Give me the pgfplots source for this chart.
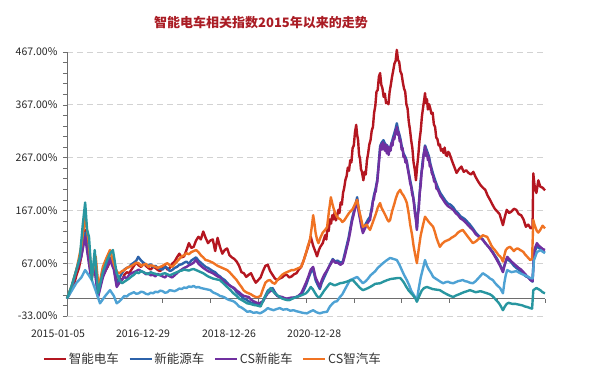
\documentclass[border=0pt]{standalone}
\usepackage{fontspec}
\setmainfont{Noto Sans CJK SC}
\usepackage{pgfplots}
\pgfplotsset{compat=1.18}
\definecolor{cRed}{RGB}{180,22,32}
\definecolor{cBlue}{RGB}{44,98,170}
\definecolor{cPurple}{RGB}{112,48,160}
\definecolor{cOrange}{RGB}{240,115,35}
\definecolor{cSky}{RGB}{78,162,212}
\definecolor{cTeal}{RGB}{40,150,160}
\definecolor{cTitle}{RGB}{170,28,36}
\definecolor{cGrid}{RGB}{210,210,210}
\definecolor{cAxis}{RGB}{110,110,110}
\begin{document}
\begin{tikzpicture}
\useasboundingbox (-67pt,-63pt) rectangle (522pt,316pt);
\begin{axis}[
  at={(0pt,0pt)}, anchor=south west,
  scale only axis, width=478pt, height=264pt,
  xmin=0, xmax=10, ymin=-33, ymax=467,
  axis x line=middle, axis y line=left,
  axis line style={-, cAxis, line width=0.7pt},
  xtick={0,1,...,10}, xticklabels={},
  ytick={-33,67,167,267,367,467},
  yticklabels={-33.00\%,67.00\%,167.00\%,267.00\%,367.00\%,467.00\%},
  minor y tick num=4,
  tick align=outside,
  major tick length=4pt, minor tick length=4pt,
  tick style={cAxis, line width=0.5pt},
  ymajorgrids, major grid style={cGrid, dashed, dash pattern=on 6pt off 4pt, line width=0.6pt},
  yticklabel style={font=\fontsize{10.5}{12}\selectfont, text=black!85, xshift=-2pt},
  clip=false,
  legend style={at={(axis description cs:-0.0565,-0.163)}, anchor=west, draw=none, fill=none,
    font=\fontsize{12.5}{14}\selectfont, text=black!80,
    /tikz/every even column/.append style={column sep=8pt}},
  legend columns=-1,
  legend image code/.code={\draw[#1, line width=1.6pt] (0pt,0pt) -- (22pt,0pt);},
  every axis plot/.append style={line width=2.4pt, line join=round},
]
% 智能电车
\addplot[cRed] coordinates {
(0,0)(0.05,8)(0.1,20)(0.15,28)(0.2,45)(0.25,58)(0.3,80)(0.34,105)(0.38,130)(0.42,110)(0.45,95)(0.49,62)(0.52,40)(0.56,58)(0.6,70)(0.63,40)(0.66,15)(0.7,30)(0.75,45)(0.8,52)(0.85,60)(0.9,70)(0.95,78)(1.0,55)(1.05,30)(1.1,38)(1.15,35)(1.2,45)(1.25,50)(1.3,48)(1.35,55)(1.4,62)(1.45,68)(1.5,63)(1.55,60)(1.6,66)(1.65,62)(1.7,58)(1.75,55)(1.8,60)(1.85,58)(1.9,54)(1.95,52)(2.0,58)(2.05,62)(2.1,55)(2.15,58)(2.2,66)(2.25,70)(2.3,78)(2.35,85)(2.4,78)(2.45,80)(2.5,92)(2.55,105)(2.6,96)(2.65,98)(2.7,110)(2.75,117)(2.8,112)(2.85,127)(2.9,115)(2.95,105)(3.0,110)(3.05,112)(3.1,90)(3.15,115)(3.2,98)(3.25,85)(3.3,92)(3.35,95)(3.4,82)(3.45,78)(3.5,75)(3.55,70)(3.6,62)(3.65,50)(3.7,48)(3.75,41)(3.8,45)(3.85,48)(3.9,38)(3.95,30)(4.0,35)(4.05,40)(4.1,52)(4.15,62)(4.2,64)(4.25,52)(4.3,45)(4.35,38)(4.4,35)(4.45,38)(4.5,40)(4.55,44)(4.6,45)(4.65,40)(4.7,42)(4.75,46)(4.8,48)(4.85,55)(4.9,60)(4.95,72)(5.0,86)(5.05,100)(5.1,117)(5.15,100)(5.2,88)(5.23,80)(5.27,92)(5.3,98)(5.35,105)
(5.40,120)(5.425,112)(5.45,135)(5.475,128)(5.50,150)(5.525,142)(5.55,158)(5.575,150)(5.60,164)(5.625,148)(5.65,155)(5.675,168)(5.70,162)(5.725,182)(5.75,178)(5.775,200)(5.80,210)(5.825,225)(5.85,232)(5.875,248)(5.90,242)(5.925,262)(5.95,258)(5.975,285)(6.00,290)(6.025,315)(6.05,329)(6.07,310)(6.09,300)(6.11,272)(6.13,265)(6.15,245)(6.17,240)(6.20,224)(6.225,240)(6.25,235)(6.275,262)(6.30,275)(6.325,292)(6.35,300)(6.375,318)(6.40,325)(6.425,352)(6.45,365)(6.475,392)(6.50,395)(6.525,420)(6.55,427)(6.575,405)(6.60,398)(6.625,382)(6.65,388)(6.675,370)(6.70,372)(6.725,368)(6.75,392)(6.775,405)(6.80,420)(6.825,432)(6.85,445)(6.875,450)(6.90,471)(6.925,452)(6.95,448)(6.975,430)(7.00,425)(7.025,410)(7.05,398)(7.075,392)(7.10,368)(7.125,360)(7.15,335)(7.175,320)(7.20,300)(7.225,285)(7.25,258)(7.275,245)(7.30,224)(7.325,250)(7.35,272)(7.375,300)(7.40,318)(7.425,345)(7.45,362)(7.475,378)(7.49,389)(7.51,370)(7.53,378)(7.55,358)(7.575,368)(7.60,360)(7.625,350)(7.65,352)(7.675,330)(7.70,325)(7.725,305)(7.75,302)(7.775,290)(7.80,292)(7.825,280)(7.85,283)(7.875,276)(7.90,286)(7.925,272)(7.95,270)(7.975,278)
(8.0,275)(8.05,262)(8.1,250)(8.15,238)(8.2,245)(8.25,250)(8.3,240)(8.35,243)(8.4,238)(8.45,235)(8.5,240)(8.55,230)(8.6,222)(8.65,215)(8.7,210)(8.75,206)(8.8,195)(8.85,187)(8.9,178)(8.95,170)(9.0,165)(9.05,160)(9.09,148)(9.12,139)(9.16,155)(9.2,168)(9.25,162)(9.3,165)(9.35,170)(9.4,168)(9.45,160)(9.5,158)(9.55,150)(9.6,136)(9.65,140)(9.7,133)(9.74,135)(9.755,237)(9.78,215)(9.82,200)(9.86,224)(9.9,212)(9.95,210)(10.0,205)
};
% 新能源车
\addplot[cBlue] coordinates {
(0,0)(0.1,22)(0.2,56)(0.3,85)(0.38,125)(0.43,90)(0.5,45)(0.58,60)(0.65,5)(0.75,45)(0.84,65)(0.9,78)(0.98,60)(1.04,25)(1.1,40)(1.15,48)(1.2,55)(1.25,58)(1.3,60)(1.35,65)(1.4,68)(1.45,72)(1.49,79)(1.55,72)(1.6,68)(1.65,64)(1.7,62)(1.75,65)(1.8,60)(1.85,62)(1.9,58)(1.95,56)(2.0,55)(2.05,60)(2.1,58)(2.15,52)(2.2,54)(2.25,58)(2.3,60)(2.35,64)(2.4,65)(2.45,68)(2.5,70)(2.55,66)(2.6,72)(2.65,75)(2.7,78)(2.75,72)(2.8,68)(2.85,64)(2.9,60)(2.95,58)(3.0,55)(3.05,52)(3.1,50)(3.15,45)(3.2,42)(3.25,38)(3.3,35)(3.35,30)(3.4,25)(3.45,22)(3.5,18)(3.55,12)(3.6,8)(3.65,4)(3.7,0)(3.75,-2)(3.8,-5)(3.85,-8)(3.9,-9)(3.95,-10)(4.0,-12)(4.05,-8)(4.1,-5)(4.15,5)(4.2,15)(4.25,18)(4.3,20)(4.35,12)(4.4,5)(4.45,3)(4.5,2)(4.55,0)(4.6,-3)(4.65,-1)(4.7,0)(4.75,2)(4.8,3)(4.85,5)(4.9,8)(4.95,15)(5.0,25)(5.05,38)(5.1,50)(5.15,55)(5.2,35)(5.25,25)(5.29,18)(5.33,30)(5.38,40)(5.43,50)(5.48,60)(5.52,68)(5.56,75)(5.61,70)(5.66,72)(5.72,68)(5.77,70)(5.81,85)(5.85,100)(5.89,115)(5.92,130)(5.96,150)(6.0,165)(6.04,180)(6.07,192)(6.1,170)(6.13,155)(6.16,140)(6.19,128)(6.23,138)(6.27,145)(6.3,150)(6.34,155)(6.38,175)(6.42,195)(6.46,210)(6.49,225)(6.52,255)(6.55,288)(6.58,295)(6.62,300)(6.66,292)(6.7,290)(6.73,282)(6.76,286)(6.8,298)(6.83,308)(6.87,320)(6.9,332)(6.93,318)(6.97,305)(7.0,290)(7.04,275)(7.08,268)(7.11,260)(7.15,238)(7.2,215)(7.23,200)(7.26,183)(7.29,160)(7.32,132)(7.36,180)(7.4,225)(7.44,260)(7.49,290)(7.53,280)(7.57,270)(7.61,252)(7.66,236)(7.71,222)(7.76,210)(7.81,200)(7.87,192)(7.92,185)(7.97,180)(8.02,178)(8.08,173)(8.13,166)(8.18,162)(8.23,156)(8.28,153)(8.33,150)(8.38,145)(8.43,140)(8.49,133)(8.55,125)(8.6,120)(8.65,116)(8.7,112)(8.75,105)(8.8,100)(8.85,95)(8.91,88)(8.95,82)(9.0,75)(9.06,64)(9.09,58)(9.12,52)(9.15,62)(9.18,70)(9.21,76)(9.25,72)(9.3,68)(9.35,62)(9.4,58)(9.45,55)(9.5,50)(9.55,46)(9.6,42)(9.65,40)(9.7,35)(9.74,32)(9.77,85)(9.8,92)(9.83,100)(9.87,96)(9.9,95)(9.95,90)(10,88)
};
% CS新能车
\addplot[cPurple] coordinates {
(0,0)(0.1,20)(0.2,54)(0.3,80)(0.38,117)(0.43,85)(0.5,41)(0.58,54)(0.65,3)(0.75,40)(0.84,60)(0.9,73)(0.98,55)(1.04,22)(1.1,30)(1.15,36)(1.2,41)(1.25,38)(1.3,45)(1.35,48)(1.4,50)(1.45,52)(1.5,55)(1.55,52)(1.6,50)(1.65,46)(1.7,48)(1.75,44)(1.8,45)(1.85,42)(1.9,47)(1.95,44)(2.0,42)(2.05,40)(2.1,45)(2.15,42)(2.2,40)(2.25,44)(2.3,48)(2.35,52)(2.4,55)(2.45,58)(2.5,60)(2.55,63)(2.6,65)(2.65,68)(2.7,73)(2.75,66)(2.8,62)(2.85,58)(2.9,55)(2.95,52)(3.0,50)(3.05,48)(3.1,45)(3.15,42)(3.2,40)(3.25,35)(3.3,30)(3.35,28)(3.4,25)(3.45,22)(3.5,20)(3.55,15)(3.6,12)(3.65,8)(3.7,5)(3.75,4)(3.8,3)(3.85,-2)(3.9,-5)(3.95,-7)(4.0,-9)(4.05,-8)(4.1,-5)(4.15,3)(4.2,10)(4.25,14)(4.3,16)(4.35,10)(4.4,5)(4.45,4)(4.5,3)(4.55,1)(4.6,0)(4.65,1)(4.7,2)(4.75,2)(4.8,3)(4.85,6)(4.9,10)(4.95,20)(5.0,30)(5.05,42)(5.1,55)(5.15,60)(5.2,40)(5.25,30)(5.29,22)(5.33,35)(5.38,45)(5.43,52)(5.48,60)(5.52,66)(5.56,73)(5.61,68)(5.66,68)(5.72,64)(5.77,67)(5.81,80)(5.85,95)(5.89,110)(5.92,124)(5.96,145)(6.0,160)(6.04,175)(6.07,187)(6.1,165)(6.13,150)(6.16,135)(6.19,124)(6.23,132)(6.27,140)(6.3,145)
(6.34,149)(6.36,162)(6.38,168)(6.40,185)(6.42,188)(6.44,200)(6.46,203)(6.48,218)(6.49,219)(6.51,240)(6.53,262)(6.55,281)(6.57,292)(6.59,282)(6.61,296)(6.63,288)(6.65,280)(6.67,292)(6.69,275)(6.71,288)(6.73,272)(6.75,286)(6.77,280)(6.79,295)(6.81,290)(6.83,305)(6.85,302)(6.87,318)(6.89,312)(6.90,325)(6.92,310)(6.94,315)(6.96,298)(6.98,300)(7.00,282)(7.02,285)(7.04,268)(7.06,270)(7.08,258)(7.10,262)(7.12,250)(7.14,240)(7.16,230)(7.18,218)(7.20,212)(7.22,198)(7.24,192)(7.26,178)(7.28,160)(7.30,150)(7.32,130)(7.34,160)(7.36,170)(7.38,200)(7.40,215)(7.42,240)(7.44,250)(7.46,272)(7.48,280)(7.49,288)(7.51,270)(7.53,278)(7.55,262)(7.57,268)(7.59,250)(7.61,252)(7.63,238)(7.66,232)(7.68,222)(7.71,220)(7.73,208)(7.76,206)
(7.81,195)(7.87,187)(7.92,180)(7.97,175)(8.02,172)(8.08,168)(8.13,162)(8.18,158)(8.23,152)(8.28,149)(8.33,145)(8.38,140)(8.43,135)(8.49,130)(8.55,122)(8.6,118)(8.65,115)(8.7,111)(8.75,105)(8.8,100)(8.85,94)(8.91,86)(8.95,80)(9.0,72)(9.06,62)(9.09,56)(9.12,50)(9.15,62)(9.18,72)(9.21,79)(9.25,75)(9.3,70)(9.35,66)(9.4,62)(9.45,58)(9.5,55)(9.55,50)(9.6,45)(9.65,40)(9.7,35)(9.74,33)(9.77,90)(9.8,98)(9.83,105)(9.87,100)(9.9,98)(9.95,94)(10,92)
};
% CS智汽车
\addplot[cOrange] coordinates {
(0,0)(0.1,25)(0.2,55)(0.3,100)(0.38,155)(0.45,110)(0.52,41)(0.6,80)(0.66,20)(0.75,60)(0.83,78)(0.9,92)(0.95,75)(1.0,60)(1.05,50)(1.1,48)(1.15,52)(1.2,54)(1.25,58)(1.3,60)(1.35,62)(1.4,65)(1.45,68)(1.5,67)(1.55,62)(1.6,64)(1.65,66)(1.7,60)(1.75,63)(1.8,62)(1.85,60)(1.9,58)(1.95,60)(2.0,62)(2.05,65)(2.1,67)(2.15,63)(2.2,60)(2.25,65)(2.3,70)(2.35,75)(2.4,80)(2.45,82)(2.5,86)(2.55,84)(2.6,88)(2.65,90)(2.7,92)(2.75,88)(2.8,82)(2.85,78)(2.9,73)(2.95,72)(3.0,70)(3.05,68)(3.1,65)(3.15,62)(3.2,60)(3.25,58)(3.3,56)(3.35,54)(3.4,50)(3.45,45)(3.5,40)(3.55,35)(3.6,28)(3.65,22)(3.7,15)(3.75,12)(3.8,10)(3.85,8)(3.9,5)(3.95,3)(4.0,3)(4.05,5)(4.1,18)(4.15,30)(4.2,34)(4.25,35)(4.3,30)(4.35,28)(4.4,35)(4.45,40)(4.5,45)(4.55,48)(4.6,50)(4.65,52)(4.7,54)(4.75,54)(4.8,56)(4.85,58)(4.9,60)(4.95,72)(5.0,86)(5.04,100)(5.08,110)(5.12,135)(5.15,158)(5.18,140)(5.2,125)(5.23,112)(5.26,105)(5.3,115)(5.35,125)(5.4,130)(5.44,135)(5.48,165)(5.52,192)(5.55,180)(5.58,170)(5.62,160)(5.65,155)(5.68,152)(5.72,150)(5.76,145)(5.8,148)(5.85,155)(5.9,162)(5.94,166)(5.98,170)(6.02,178)(6.07,187)(6.1,172)(6.13,160)(6.16,148)(6.19,136)(6.23,138)(6.27,140)(6.3,135)(6.34,130)(6.38,140)(6.42,150)(6.46,160)(6.5,172)(6.55,181)(6.58,172)(6.62,165)(6.66,158)(6.7,150)(6.73,146)(6.76,149)(6.8,165)(6.85,180)(6.88,190)(6.92,200)(6.97,206)(7.0,200)(7.04,195)(7.08,188)(7.11,181)(7.15,160)(7.18,140)(7.22,120)(7.25,100)(7.28,85)(7.32,67)(7.36,95)(7.4,120)(7.45,140)(7.49,155)(7.53,150)(7.57,145)(7.62,140)(7.66,136)(7.7,125)(7.73,115)(7.77,105)(7.8,98)(7.85,104)(7.9,108)(7.95,110)(8.0,112)(8.04,115)(8.08,117)(8.13,120)(8.18,125)(8.23,128)(8.28,130)(8.33,124)(8.38,118)(8.43,112)(8.49,105)(8.55,108)(8.6,112)(8.65,116)(8.7,120)(8.75,118)(8.79,117)(8.84,108)(8.88,100)(8.92,95)(8.95,92)(9.0,86)(9.03,82)(9.06,80)(9.09,76)(9.12,70)(9.15,82)(9.18,92)(9.22,96)(9.27,98)(9.31,94)(9.35,90)(9.38,93)(9.42,95)(9.45,94)(9.48,92)(9.52,90)(9.55,88)(9.58,84)(9.62,80)(9.66,76)(9.69,73)(9.73,75)(9.755,149)(9.78,140)(9.8,135)(9.83,128)(9.86,125)(9.9,130)(9.95,138)(10,133)
};
% hidden series (light blue)
\addplot[cSky, forget plot] coordinates {
(0,0)(0.1,15)(0.2,30)(0.3,40)(0.38,54)(0.45,45)(0.52,35)(0.6,15)(0.69,-9)(0.8,5)(0.9,16)(0.98,5)(1.04,-9)(1.1,-5)(1.15,0)(1.2,5)(1.25,4)(1.3,8)(1.35,10)(1.4,12)(1.45,9)(1.5,10)(1.55,13)(1.6,12)(1.65,9)(1.7,8)(1.75,11)(1.8,10)(1.85,13)(1.9,12)(1.95,15)(2.0,14)(2.05,11)(2.1,12)(2.15,16)(2.2,15)(2.25,14)(2.3,16)(2.35,19)(2.4,18)(2.45,21)(2.5,20)(2.55,23)(2.6,22)(2.65,24)(2.7,21)(2.75,22)(2.8,20)(2.85,19)(2.9,18)(2.95,17)(3.0,16)(3.05,12)(3.1,10)(3.15,8)(3.2,5)(3.25,4)(3.3,2)(3.35,-1)(3.4,-3)(3.45,-4)(3.5,-6)(3.55,-10)(3.6,-15)(3.65,-17)(3.7,-20)(3.77,-25)(3.83,-24)(3.9,-27)(3.97,-26)(4.04,-28)(4.1,-25)(4.15,-22)(4.2,-18)(4.25,-20)(4.32,-22)(4.38,-20)(4.45,-18)(4.52,-21)(4.6,-20)(4.67,-23)(4.74,-22)(4.8,-24)(4.85,-25)(4.93,-27)(5.02,-28)(5.08,-25)(5.15,-22)(5.22,-26)(5.29,-28)(5.36,-26)(5.44,-25)(5.5,-15)(5.56,-9)(5.6,-6)(5.65,-5)(5.71,3)(5.76,8)(5.8,15)(5.86,25)(5.92,35)(6.0,38)(6.07,41)(6.13,35)(6.19,29)(6.25,33)(6.3,38)(6.35,44)(6.4,48)(6.45,52)(6.5,58)(6.55,62)(6.61,67)(6.68,72)(6.76,77)(6.83,75)(6.9,73)(6.95,65)(7.0,55)(7.05,45)(7.11,35)(7.16,25)(7.2,15)(7.26,6)(7.32,-3)(7.36,20)(7.4,40)(7.45,58)(7.49,73)(7.53,62)(7.57,55)(7.62,48)(7.66,41)(7.71,38)(7.76,35)(7.81,32)(7.87,29)(7.92,31)(7.97,32)(8.02,30)(8.08,29)(8.13,31)(8.18,33)(8.23,34)(8.28,35)(8.33,33)(8.38,32)(8.43,30)(8.49,29)(8.55,33)(8.6,38)(8.65,43)(8.7,48)(8.75,45)(8.8,42)(8.85,38)(8.91,35)(8.95,30)(9.0,25)(9.06,20)(9.09,15)(9.12,10)(9.15,30)(9.18,45)(9.21,54)(9.25,52)(9.3,50)(9.35,51)(9.4,52)(9.44,50)(9.48,48)(9.53,46)(9.58,44)(9.63,42)(9.69,39)(9.74,38)(9.77,73)(9.8,80)(9.83,88)(9.87,90)(9.9,92)(9.95,89)(10,86)
};
% hidden series (teal)
\addplot[cTeal, forget plot] coordinates {
(0,0)(0.1,25)(0.2,55)(0.27,79)(0.33,140)(0.38,182)(0.42,130)(0.46,117)(0.52,35)(0.58,92)(0.65,10)(0.75,50)(0.84,73)(0.9,85)(0.96,92)(1.0,70)(1.04,48)(1.1,35)(1.15,29)(1.2,32)(1.25,35)(1.3,38)(1.35,42)(1.4,45)(1.45,50)(1.5,48)(1.55,52)(1.6,50)(1.65,48)(1.7,46)(1.75,50)(1.8,48)(1.85,47)(1.9,45)(1.95,45)(2.0,47)(2.05,48)(2.1,46)(2.15,44)(2.2,46)(2.25,48)(2.3,50)(2.35,52)(2.4,53)(2.45,55)(2.5,54)(2.55,53)(2.6,55)(2.65,56)(2.7,54)(2.75,52)(2.8,50)(2.85,48)(2.9,45)(2.95,42)(3.0,40)(3.05,38)(3.1,37)(3.2,35)(3.28,28)(3.35,22)(3.42,16)(3.48,10)(3.55,5)(3.6,0)(3.68,-4)(3.77,-9)(3.83,-10)(3.9,-12)(3.97,-13)(4.05,-15)(4.1,-5)(4.15,5)(4.2,12)(4.26,20)(4.3,15)(4.35,10)(4.42,5)(4.5,0)(4.57,-2)(4.65,-3)(4.72,0)(4.8,3)(4.87,5)(4.95,8)(5.0,10)(5.05,15)(5.1,22)(5.14,18)(5.18,12)(5.22,6)(5.25,3)(5.29,3)(5.33,8)(5.38,15)(5.44,22)(5.5,29)(5.55,27)(5.6,25)(5.66,27)(5.71,29)(5.78,30)(5.85,32)(5.91,34)(5.98,35)(6.03,30)(6.08,25)(6.13,20)(6.19,16)(6.25,18)(6.3,20)(6.38,24)(6.45,28)(6.55,29)(6.62,32)(6.7,35)(6.77,37)(6.85,38)(6.92,39)(6.97,39)(7.01,35)(7.05,30)(7.1,22)(7.15,15)(7.2,10)(7.25,5)(7.29,0)(7.32,-6)(7.37,5)(7.42,15)(7.47,20)(7.53,22)(7.59,20)(7.65,18)(7.72,17)(7.8,16)(7.87,12)(7.95,8)(8.02,5)(8.08,3)(8.14,6)(8.2,8)(8.25,10)(8.3,12)(8.37,14)(8.43,16)(8.49,14)(8.55,12)(8.6,13)(8.65,14)(8.72,12)(8.79,10)(8.85,8)(8.9,5)(8.95,0)(9.0,-5)(9.03,-8)(9.06,-12)(9.09,-17)(9.12,-22)(9.16,-15)(9.2,-10)(9.24,-8)(9.27,-9)(9.32,-10)(9.38,-10)(9.43,-11)(9.48,-12)(9.53,-13)(9.58,-15)(9.63,-16)(9.69,-18)(9.73,-19)(9.755,16)(9.79,18)(9.82,20)(9.86,18)(9.9,16)(9.95,12)(10,10)
};
\legend{智能电车,新能源车,CS新能车,CS智汽车}
\node[font=\fontsize{10.5}{12}\selectfont, text=black!85] at (axis description cs:-0.0188,-0.068) {2015-01-05};
\node[font=\fontsize{10.5}{12}\selectfont, text=black!85] at (axis description cs:0.159,-0.068) {2016-12-29};
\node[font=\fontsize{10.5}{12}\selectfont, text=black!85] at (axis description cs:0.339,-0.068) {2018-12-26};
\node[font=\fontsize{10.5}{12}\selectfont, text=black!85] at (axis description cs:0.517,-0.068) {2020-12-28};
\end{axis}
\node[font=\bfseries\fontsize{13}{15}\selectfont, text=cTitle] at (194pt,293pt) {智能电车相关指数2015年以来的走势};
\end{tikzpicture}
\end{document}
